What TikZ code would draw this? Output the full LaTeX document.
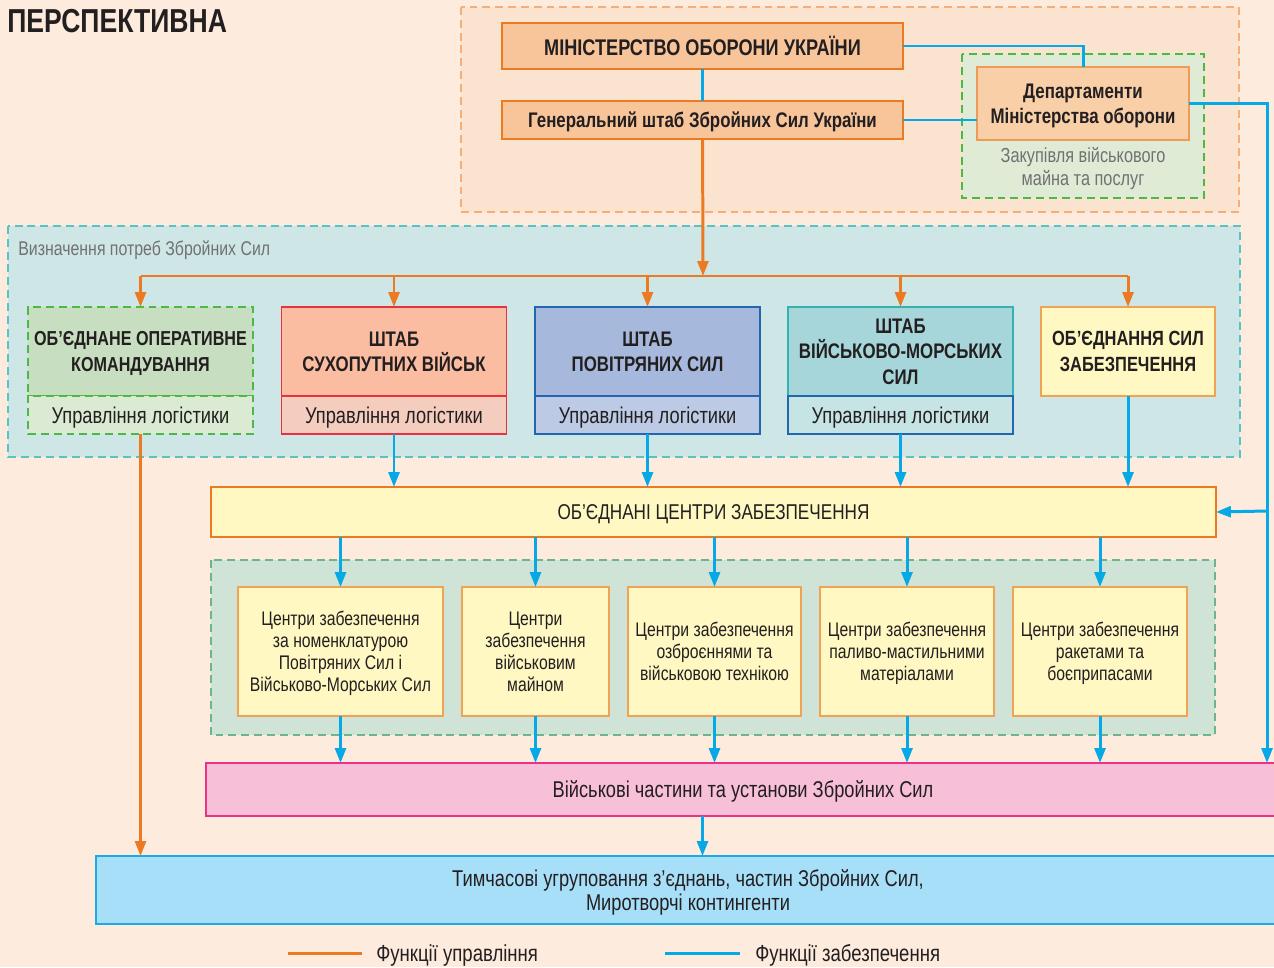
\documentclass[tikz,border=0pt]{standalone}
\usepackage{fontspec}
\setmainfont{Liberation Sans}[FakeStretch=0.8]
\usetikzlibrary{arrows.meta, positioning}

\definecolor{ink}{HTML}{231F20}
\definecolor{greytxt}{HTML}{707173}
\definecolor{paper}{HTML}{FDECDD}
\definecolor{ctlorange}{HTML}{EC7A23}
\definecolor{supblue}{HTML}{06A9E6}
\definecolor{topfill}{HTML}{FBE4CF}
\definecolor{topline}{HTML}{F5AE78}
\definecolor{modfill}{HTML}{F8C59B}
\definecolor{depfill}{HTML}{F9CFA8}
\definecolor{depline}{HTML}{EF9A55}
\definecolor{gzfill}{HTML}{E0EBD6}
\definecolor{gzline}{HTML}{4DB848}
\definecolor{needfill}{HTML}{CFE6E7}
\definecolor{needline}{HTML}{5CC1C3}
\definecolor{okhead}{HTML}{C7DFC0}
\definecolor{oksub}{HTML}{DBEBD3}
\definecolor{svhead}{HTML}{FBBDA2}
\definecolor{svsub}{HTML}{F4CDBF}
\definecolor{svline}{HTML}{E5323E}
\definecolor{pshead}{HTML}{A6B9DD}
\definecolor{pssub}{HTML}{BCCAE6}
\definecolor{psline}{HTML}{2266B0}
\definecolor{vmhead}{HTML}{A6D6D9}
\definecolor{vmsub}{HTML}{C7E4E5}
\definecolor{vmline}{HTML}{35B0B3}
\definecolor{yfill}{HTML}{FFF8C3}
\definecolor{yline}{HTML}{F0A255}
\definecolor{szfill}{HTML}{CFE3D6}
\definecolor{szline}{HTML}{6EB58D}
\definecolor{pinkfill}{HTML}{F7BFD8}
\definecolor{pinkline}{HTML}{E93288}
\definecolor{tmpfill}{HTML}{A7DFF8}
\definecolor{tmpline}{HTML}{1AABE6}

\begin{document}
\begin{tikzpicture}[x=0.02cm, y=-0.02cm, >={Triangle[length=8.5pt, width=6.2pt]},
		txtbox/.style={draw, inner sep=2pt, outer sep=0pt, align=center, text=ink, text depth=0pt, line width=0.8pt, font=\fontsize{13}{14}\selectfont},
		hdbox/.style={txtbox, font=\fontsize{12}{14.5}\selectfont\bfseries},
		zone/.style={dash pattern=on 4.5pt off 2.8pt, line width=0.7pt},
		ctlline/.style={draw=ctlorange, line width=1.7pt},
		supline/.style={draw=supblue, line width=1.7pt},
		hq/.style={hdbox, minimum width=4.5cm, minimum height=1.78cm},
		logi/.style={txtbox, minimum width=4.5cm, minimum height=0.76cm, below=0pt of #1},
		ctrbox/.style={txtbox, fill=yfill, draw=yline, minimum height=2.58cm, font=\fontsize{11.2}{12.5}\selectfont}]
	\useasboundingbox (0,0) rectangle (1274,967);
	\clip (0,0) rectangle (1274,967);
	\fill[paper] (0,0) rectangle (1274,967);
	
	\node[anchor=west, inner sep=0pt, text=ink, font=\fontsize{18.9}{20}\selectfont\bfseries] (title) at (7,21) {ПЕРСПЕКТИВНА};
	
	% ministry level
	\draw[zone, draw=topline, fill=topfill] (461,7) rectangle (1239,212);
	\draw[zone, draw=gzline, fill=gzfill] (962,54) rectangle (1204,198);
	\node[hdbox, fill=modfill, draw=ctlorange, minimum width=8.02cm, minimum height=0.92cm, font=\fontsize{12.9}{14.5}\selectfont\bfseries] (mod) at (702.5,46) {МІНІСТЕРСТВО ОБОРОНИ УКРАЇНИ};
	\node[hdbox, fill=modfill, draw=ctlorange, minimum width=8.02cm, minimum height=0.76cm] (gs) at (702.5,120) {Генеральний штаб Збройних Сил України};
	\node[hdbox, fill=depfill, draw=depline, minimum width=4.24cm, minimum height=1.46cm] (dep) at (1083,103.5) {Департаменти\\Міністерства оборони};
	\node[align=center, text=greytxt, font=\fontsize{11.6}{13}\selectfont] (buy) at (1083,168.5) {Закупівля військового\\майна та послуг};
	
	% needs of the armed forces
	\draw[zone, draw=needline, fill=needfill] (8,226) rectangle (1240,457);
	\node[anchor=west, inner sep=0pt, text=greytxt, font=\fontsize{11.3}{12.6}\selectfont] (needs) at (18,250) {Визначення потреб Збройних Сил};
	\node[hq, zone, fill=okhead, draw=gzline, font=\fontsize{11.5}{14.5}\selectfont\bfseries] (hq1) at (140.5,351.5) {ОБ’ЄДНАНЕ ОПЕРАТИВНЕ\\КОМАНДУВАННЯ};
	\node[logi=hq1, zone, fill=oksub, draw=gzline] (log1) {Управління логістики};
	\node[hq, fill=svhead, draw=svline] (hq2) at (394,351.5) {ШТАБ\\СУХОПУТНИХ ВІЙСЬК};
	\node[logi=hq2, fill=svsub, draw=svline] (log2) {Управління логістики};
	\node[hq, fill=pshead, draw=psline] (hq3) at (647.5,351.5) {ШТАБ\\ПОВІТРЯНИХ СИЛ};
	\node[logi=hq3, fill=pssub, draw=psline] (log3) {Управління логістики};
	\node[hq, fill=vmhead, draw=vmline] (hq4) at (900.5,351.5) {ШТАБ\\ВІЙСЬКОВО-МОРСЬКИХ\\СИЛ};
	\node[logi=hq4, fill=vmsub, draw=psline] (log4) {Управління логістики};
	\node[hq, minimum width=3.48cm, fill=yfill, draw=yline, font=\fontsize{11.7}{14.5}\selectfont\bfseries] (hq5) at (1128,351.5) {ОБ’ЄДНАННЯ СИЛ\\ЗАБЕЗПЕЧЕННЯ};
	
	% supply chain
	\node[txtbox, fill=yfill, draw=ctlorange, minimum width=20.1cm, minimum height=1cm, font=\fontsize{12.2}{14}\selectfont] (ocz) at (713.5,512) {ОБ’ЄДНАНІ ЦЕНТРИ ЗАБЕЗПЕЧЕННЯ};
	\draw[zone, draw=szline, fill=szfill] (211,560) rectangle (1215,735);
	\node[ctrbox, minimum width=4.1cm] (c1) at (340.5,651.5) {Центри забезпечення\\за номенклатурою\\Повітряних Сил і\\Військово-Морських Сил};
	\node[ctrbox, minimum width=2.94cm] (c2) at (535.5,651.5) {Центри\\забезпечення\\військовим\\майном};
	\node[ctrbox, minimum width=3.46cm] (c3) at (714.5,651.5) {Центри забезпечення\\озброєннями та\\військовою технікою};
	\node[ctrbox, minimum width=3.48cm] (c4) at (907,651.5) {Центри забезпечення\\паливо-мастильними\\матеріалами};
	\node[ctrbox, minimum width=3.48cm] (c5) at (1100,651.5) {Центри забезпечення\\ракетами та\\боєприпасами};
	\node[txtbox, fill=pinkfill, draw=pinkline, minimum width=21.48cm, minimum height=1.06cm] (units) at (743,789.5) {Військові частини та установи Збройних Сил};
	\node[txtbox, fill=tmpfill, draw=tmpline, minimum width=23.68cm, minimum height=1.36cm] (tmp) at (688,890) {Тимчасові угруповання з’єднань, частин Збройних Сил,\\Миротворчі контингенти};
	
	% control lines
	\coordinate (hub) at (703,276);
	\draw[ctlline, ->] (gs) -- (hub);
	\draw[ctlline] (hq1.north |- hub) -- (hq5.north |- hub);
	\foreach \n in {hq1, hq2, hq3, hq4, hq5}
		\draw[ctlline, ->] (\n.north |- hub) -- (\n.north);
	\draw[ctlline, ->] (log1) -- (log1.south |- tmp.north);
	
	% supply lines
	\draw[supline] (mod) -- (gs);
	\draw[supline] (mod.east) -| (dep.north);
	\draw[supline] (gs.east) -- (gs.east -| dep.west);
	\coordinate (rail) at (1267,511);
	\draw[supline, ->] (dep.east) -| (rail |- units.north);
	\draw[supline, ->] (rail) -- (ocz.east);
	\foreach \n in {log2, log3, log4, hq5}
		\draw[supline, ->] (\n.south) -- (\n.south |- ocz.north);
	\foreach \n in {c1, c2, c3, c4, c5} {
		\draw[supline, ->] (\n.north |- ocz.south) -- (\n.north);
		\draw[supline, ->] (\n.south) -- (\n.south |- units.north);
	}
	\draw[supline, ->] (units.south -| gs) -- (tmp.north -| gs);
	
	% legend
	\node[anchor=west, inner sep=0pt, text=ink, font=\fontsize{13.2}{14}\selectfont] (lgctl) at (376,955) {Функції управління};
	\node[anchor=west, inner sep=0pt, text=ink, font=\fontsize{13.2}{14}\selectfont] (lgsup) at (755,955) {Функції забезпечення};
	\draw[ctlline] (288,953) -- (362,953);
	\draw[supline] (665,953) -- (740,953);
\end{tikzpicture}
\end{document}
